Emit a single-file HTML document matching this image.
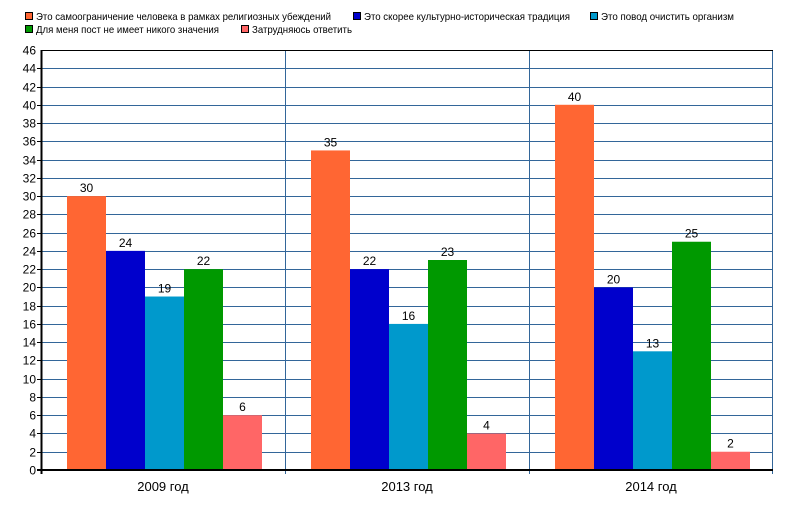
<!DOCTYPE html><html><head><meta charset="utf-8"><style>body{margin:0;background:#fff}svg{display:block}text{font-family:"Liberation Sans","DejaVu Sans",sans-serif}</style></head><body>
<svg width="800" height="506" xmlns="http://www.w3.org/2000/svg">
<g font-size="10.5" fill="#000">
<rect x="25.5" y="12.5" width="7" height="7" fill="#FF6633" stroke="#000"/><text x="36" y="20" textLength="295" lengthAdjust="spacingAndGlyphs">Это самоограничение человека в рамках религиозных убеждений</text>
<rect x="353.5" y="12.5" width="7" height="7" fill="#0000CC" stroke="#000"/><text x="364" y="20" textLength="206" lengthAdjust="spacingAndGlyphs">Это скорее культурно-историческая традиция</text>
<rect x="590.5" y="12.5" width="7" height="7" fill="#0099CC" stroke="#000"/><text x="601" y="20" textLength="133" lengthAdjust="spacingAndGlyphs">Это повод очистить организм</text>
<rect x="25.5" y="25.5" width="7" height="7" fill="#009900" stroke="#000"/><text x="36" y="33" textLength="183" lengthAdjust="spacingAndGlyphs">Для меня пост не имеет никого значения</text>
<rect x="241.5" y="25.5" width="7" height="7" fill="#FF6666" stroke="#000"/><text x="252" y="33" textLength="100" lengthAdjust="spacingAndGlyphs">Затрудняюсь ответить</text>
</g>
<g id="grid" stroke="#336699" stroke-width="1"></g>
<g id="bars"></g>
<line x1="41.5" y1="50" x2="41.5" y2="474" stroke="#000" stroke-width="2"/>
<line x1="37" y1="470" x2="773" y2="470" stroke="#000" stroke-width="2"/>
<line x1="41" y1="50.5" x2="773" y2="50.5" stroke="#000"/>
<g id="lbl" font-size="12"></g>
<g font-size="13" text-anchor="middle"><text x="163" y="491">2009 год</text><text x="407" y="491">2013 год</text><text x="651" y="491">2014 год</text></g>
<script>
var ns="http://www.w3.org/2000/svg",g=document.getElementById("grid"),b=document.getElementById("bars"),l=document.getElementById("lbl");
function el(p,t,a,tx){var e=document.createElementNS(ns,t);for(var k in a)e.setAttribute(k,a[k]);if(tx!=null)e.textContent=tx;p.appendChild(e);return e;}
function Y(v){return 470-v*420/46;}
for(var v=0;v<=46;v+=2){var y=Math.round(Y(v))+0.5;if(v>0&&v<46)el(g,"line",{x1:37,y1:y,x2:773,y2:y});if(v>0&&v<46)el(g,"line",{x1:37,y1:y,x2:42,y2:y,stroke:"#000"});el(l,"text",{x:36,y:y+4,"text-anchor":"end"},v);}
[285.5,529.5,772.5].forEach(function(x){el(g,"line",{x1:x,y1:50,x2:x,y2:474});});
var cols=["#FF6633","#0000CC","#0099CC","#009900","#FF6666"],d=[[30,24,19,22,6],[35,22,16,23,4],[40,20,13,25,2]];
d.forEach(function(s,i){s.forEach(function(v,j){var x=41+i*244+26+j*39;el(b,"rect",{x:x,y:Y(v),width:39,height:470-Y(v),fill:cols[j]});el(l,"text",{x:x+19.5,y:Y(v)-4,"text-anchor":"middle"},v);});});
</script>
</svg></body></html>
